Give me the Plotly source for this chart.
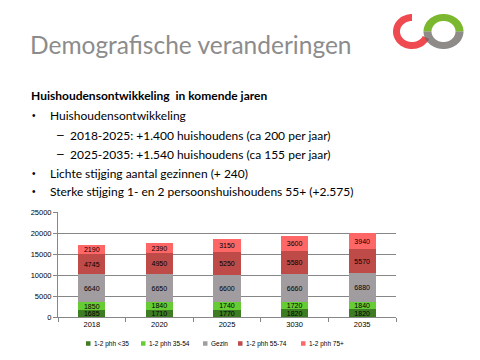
import numpy as np
import plotly.graph_objects as go

# ---------------- data ----------------
years = ["2018", "2020", "2025", "3030", "2035"]
series_names = ["1-2 phh <35", "1-2 phh 35-54", "Gezin", "1-2 phh 55-74", "1-2 phh 75+"]
phh_lt35 = [1685, 1710, 1770, 1820, 1820]
phh_35_54 = [1850, 1840, 1740, 1720, 1840]
gezin = [6640, 6650, 6600, 6660, 6880]
phh_55_74 = [4745, 4950, 5250, 5580, 5570]
phh_75p = [2190, 2390, 3150, 3600, 3940]
y_ticks = [0, 5000, 10000, 15000, 20000, 25000]

title_text = "Demografische veranderingen"
heading = "Huishoudensontwikkeling  in komende jaren"
bullets = [
    ("•", "Huishoudensontwikkeling"),
    ("–", "2018-2025: +1.400 huishoudens (ca 200 per jaar)"),
    ("–", "2025-2035: +1.540 huishoudens (ca 155 per jaar)"),
    ("•", "Lichte stijging aantal gezinnen (+ 240)"),
    ("•", "Sterke stijging 1- en 2 persoonshuishoudens 55+ (+2.575)"),
]

colors = ["#3D7C22", "#66CC33", "#A09CA0", "#BE4B48", "#FF6666"]
values = [phh_lt35, phh_35_54, gezin, phh_55_74, phh_75p]

# ---------------- geometry helpers (pixels -> paper) ----------------
W, H = 480, 360
ML, MR, MT, MB = 58, 84, 212, 43
PW, PH = W - ML - MR, H - MT - MB


def px(x):
    return (x - ML) / PW


def py(y):
    return (H - MB - y) / PH


fig = go.Figure()
for name, vals, col in zip(series_names, values, colors):
    fig.add_trace(go.Bar(
        x=years, y=vals, name=name, marker=dict(color=col, line=dict(width=0)),
        text=vals, textposition="inside", insidetextanchor="middle",
        constraintext="none",
        textfont=dict(size=7, color="black", family="Liberation Sans"),
        showlegend=False,
    ))

axis_col = "#868686"
fig.update_layout(
    width=W, height=H, margin=dict(l=ML, r=MR, t=MT, b=MB),
    barmode="stack", bargap=0.6,
    paper_bgcolor="white", plot_bgcolor="white",
    font=dict(family="Liberation Sans", color="black"),
    xaxis=dict(type="category", showline=True, linecolor=axis_col, linewidth=1,
               ticks="outside", tickson="boundaries", ticklen=4, tickcolor=axis_col,
               tickfont=dict(size=7.5, color="black"), showgrid=False, fixedrange=True),
    yaxis=dict(range=[0, 25000], tickvals=y_ticks, tickformat="d", showline=True,
               linecolor=axis_col, linewidth=1, ticks="outside", ticklen=4,
               tickcolor=axis_col, showgrid=True, gridcolor=axis_col, gridwidth=1,
               zeroline=False, tickfont=dict(size=7.5, color="black")),
    uniformtext=dict(minsize=7, mode="show"),
)

annotations = []
shapes = []

# title
annotations.append(dict(x=px(28), y=py(44), xref="paper", yref="paper", xanchor="left",
                        yanchor="middle", showarrow=False, text=title_text,
                        font=dict(family="Lato", size=24.5, color="#8C8C8C")))
# heading
annotations.append(dict(x=px(29), y=py(96), xref="paper", yref="paper", xanchor="left",
                        yanchor="middle", showarrow=False, text="<b>" + heading + "</b>",
                        font=dict(family="Lato", size=12, color="black")))
line_y = [115, 135, 154, 173, 191]
for (sym, txt), ly in zip(bullets, line_y):
    if sym == "•":
        sx, tx, ss = 30, 48, 10
    else:
        sx, tx, ss = 55, 68, 12
    annotations.append(dict(x=px(sx), y=py(ly), xref="paper", yref="paper", xanchor="left",
                            yanchor="middle", showarrow=False, text=sym,
                            font=dict(family="Liberation Sans", size=ss, color="black")))
    annotations.append(dict(x=px(tx), y=py(ly), xref="paper", yref="paper", xanchor="left",
                            yanchor="middle", showarrow=False, text=txt,
                            font=dict(family="Lato", size=12, color="black")))

# manual legend
leg_sq_x = [86, 141, 203, 238, 301]
leg_y = 343.5
for name, col, lx in zip(series_names, colors, leg_sq_x):
    shapes.append(dict(type="rect", xref="paper", yref="paper", x0=px(lx), x1=px(lx + 4.5),
                       y0=py(leg_y + 2.25), y1=py(leg_y - 2.25), fillcolor=col, line=dict(width=0)))
    annotations.append(dict(x=px(lx + 6), y=py(leg_y), xref="paper", yref="paper",
                            xanchor="left", yanchor="middle", showarrow=False,
                            text=name.replace("<", "&lt;"),
                            font=dict(family="Liberation Sans", size=6.5, color="black")))


# logo
def ring_path(cx, cy, rx_o, ry_o, rx_i, ry_i, a0, a1, n=60):
    t = np.radians(np.linspace(a0, a1, n))
    outer = [(cx + rx_o * np.cos(a), cy - ry_o * np.sin(a)) for a in t]
    inner = [(cx + rx_i * np.cos(a), cy - ry_i * np.sin(a)) for a in t[::-1]]
    pts = outer + inner
    d = "M " + " L ".join(f"{px(x):.5f},{py(y):.5f}" for x, y in pts) + " Z"
    return d


cy_logo = 31.5
shapes.append(dict(type="path", xref="paper", yref="paper",
                   path=ring_path(412, cy_logo, 19, 17.5, 12, 10.5, 90, 335),
                   fillcolor="#EF4A50", line=dict(width=0)))
shapes.append(dict(type="path", xref="paper", yref="paper",
                   path=ring_path(443.5, cy_logo, 20, 17.5, 12, 10.5, 0, 180),
                   fillcolor="#7CB82F", line=dict(width=0)))
shapes.append(dict(type="path", xref="paper", yref="paper",
                   path=ring_path(443.5, cy_logo, 20, 17.5, 12, 10.5, 180, 360),
                   fillcolor="#6A6461", opacity=0.75, line=dict(width=0)))

fig.update_layout(annotations=annotations, shapes=shapes)
fig.write_html("out.html")
